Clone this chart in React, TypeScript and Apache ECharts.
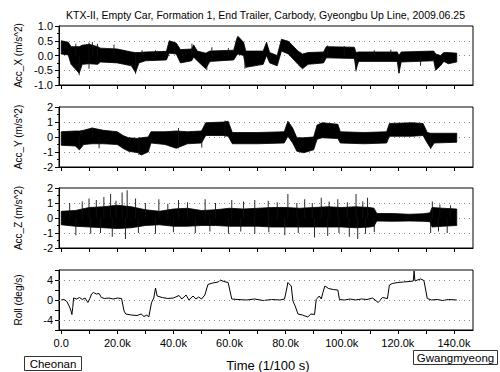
import React, { useEffect, useRef } from 'react';
import * as echarts from 'echarts';

const titleText = 'KTX-II, Empty Car, Formation 1, End Trailer, Carbody, Gyeongbu Up Line, 2009.06.25';
const xAxisTitle = 'Time (1/100 s)';
const startStation = 'Cheonan';
const endStation = 'Gwangmyeong';
const panelNames = ['Acc_X (m/s^2)', 'Acc_Y (m/s^2)', 'Acc_Z (m/s^2)', 'Roll (deg/s)'];

// time in units of 1k (x 1/100 s)
const xTickValues = [0, 10, 20, 30, 40, 50, 60, 70, 80, 90, 100, 110, 120, 130, 140];
const xLabelValues = [0, 20, 40, 60, 80, 100, 120, 140];

// Acc_X envelope (upper / lower edge of the dense trace) and isolated peaks
const accXTime = [0, 2.5, 3.5, 6.4, 7.5, 10, 13, 14, 20, 25, 26.5, 27.7, 30, 37.5, 38.5, 41, 42.5, 46.5, 47.2, 48.5, 51.5, 53, 61.5, 62.5, 63, 65, 65.8, 72, 73.2, 74.3, 77, 78.5, 81, 84.4, 86, 88, 93.5, 94.5, 104.5, 105.1, 106, 119.8, 120.4, 121.2, 132.8, 133.5, 135.2, 136.4, 138, 141];
const accXHigh = [0.5, 0.45, 0.3, 0.3, 0.35, 0.38, 0.3, 0.25, 0.22, 0.12, 0.1, 0.1, 0.12, 0.14, 0.5, 0.42, 0.2, 0.22, 0.36, 0.15, 0.08, 0.15, 0.18, 0.55, 0.65, 0.45, 0.15, 0.15, 0.45, 0.1, 0.0, 0.55, 0.48, 0.15, 0.05, 0.1, 0.12, 0.3, 0.28, 0.1, 0.12, 0.12, 0.0, 0.12, 0.15, 0.05, 0.0, 0.1, 0.1, 0.08];
const accXLow = [0.05, 0.02, -0.3, -0.6, -0.3, -0.28, -0.3, -0.22, -0.25, -0.35, -0.58, -0.25, -0.18, -0.15, 0.08, 0.05, -0.25, -0.18, -0.05, -0.18, -0.45, -0.2, -0.15, 0.0, 0.05, 0.0, -0.4, -0.3, 0.0, -0.25, -0.35, 0.15, 0.05, -0.3, -0.45, -0.3, -0.25, -0.08, -0.1, -0.48, -0.2, -0.2, -0.6, -0.22, -0.18, -0.5, -0.35, -0.2, -0.28, -0.22];
const accXPeakTime = [5.2, 9.9, 11.1, 12.9, 18.8, 28.8, 33.6, 46.6, 53.7, 59.6, 95.0, 100.9, 111.6, 117.5, 6.4, 9.9, 26.5, 51.9, 65.5, 105.1, 120.4, 128.1];
const accXPeakValue = [0.4, 0.44, 0.46, 0.4, 0.37, 0.18, 0.18, 0.4, 0.28, 0.25, 0.34, 0.32, 0.18, 0.2, -0.67, -0.45, -0.62, -0.5, -0.45, -0.54, -0.6, -0.35];

// Acc_Y envelope and isolated peaks
const accYTime = [0, 5, 6.5, 8, 11, 15, 20, 22, 24, 27.5, 28.5, 31, 32, 37, 41, 45, 50, 51.5, 58, 59.5, 61, 70, 79.5, 80.8, 82.5, 84, 86.5, 90, 91.2, 93, 98.6, 99.5, 108, 116, 117, 125, 129, 130.5, 131.7, 133, 141];
const accYHigh = [0.35, 0.4, 0.4, 0.45, 0.6, 0.45, 0.35, 0.1, -0.05, -0.1, -0.05, 0.0, 0.35, 0.35, 0.4, 0.35, 0.4, 0.95, 1.0, 1.05, 0.3, 0.3, 0.35, 1.05, 0.6, -0.05, -0.05, 0.0, 0.8, 0.95, 0.85, 0.35, 0.3, 0.35, 0.9, 0.95, 0.9, 0.3, 0.25, 0.25, 0.25];
const accYLow = [-0.55, -0.6, -0.85, -0.5, -0.45, -0.45, -0.5, -0.75, -0.95, -1.05, -1.2, -1.0, -0.4, -0.5, -0.75, -0.45, -0.4, 0.1, 0.1, 0.05, -0.45, -0.45, -0.4, 0.05, -0.4, -0.95, -1.05, -0.85, -0.15, -0.05, -0.1, -0.4, -0.45, -0.4, 0.05, 0.05, 0.1, -0.4, -0.75, -0.4, -0.35];
const accYPeakTime = [11.1, 41.8, 58.4, 6.4, 13.5, 27.7, 41.8, 50.1, 131.7];
const accYPeakValue = [0.62, 0.6, 1.1, -0.85, -0.75, -1.2, -0.75, -0.7, -0.8];

// Acc_Z envelope plus isolated peaks
const accZTime = [0, 5, 10, 15, 20, 25, 30, 35, 40, 45, 50, 55, 60, 65, 70, 75, 80, 85, 90, 95, 100, 105, 110, 111.5, 112.5, 118, 124, 129, 131.5, 132.2, 136, 141];
const accZHigh = [0.45, 0.5, 0.7, 0.75, 0.85, 0.75, 0.55, 0.45, 0.6, 0.65, 0.5, 0.55, 0.65, 0.6, 0.65, 0.7, 0.7, 0.65, 0.7, 0.75, 0.7, 0.75, 0.7, 0.65, 0.3, 0.3, 0.25, 0.28, 0.35, 0.7, 0.65, 0.6];
const accZLow = [-0.45, -0.55, -0.6, -0.65, -0.7, -0.65, -0.5, -0.45, -0.55, -0.55, -0.5, -0.5, -0.55, -0.55, -0.55, -0.6, -0.6, -0.6, -0.6, -0.6, -0.6, -0.65, -0.6, -0.55, -0.2, -0.22, -0.2, -0.22, -0.25, -0.6, -0.55, -0.5];
const accZPeakTime = [3, 7.5, 9.9, 12.5, 15.2, 17.6, 19.5, 21.7, 23.5, 26.5, 30, 34.8, 38, 41.8, 45, 51.3, 55, 60.8, 65, 69.0, 73.8, 77, 80.8, 84, 86.8, 89.5, 92.7, 95.5, 98.6, 102, 105.1, 107.5, 109.2, 132.3, 135, 138.8, 5.2, 10.5, 14, 18.2, 22.9, 27.5, 33.6, 40, 47.8, 53, 59.6, 64, 69.0, 74, 79.7, 84.5, 90.3, 95.0, 99, 102.7, 105.7, 108.5, 111.6, 131.7, 134.5, 137.6];
const accZPeakValue = [1.0, 1.1, 1.3, 1.2, 1.4, 1.6, 1.15, 1.7, 1.85, 1.3, 1.0, 1.25, 0.95, 1.2, 1.05, 1.25, 1.0, 1.2, 1.1, 1.2, 1.15, 1.05, 1.6, 1.0, 1.25, 1.0, 1.35, 1.1, 1.25, 1.05, 1.6, 1.1, 1.35, 1.1, 0.9, 0.85, -1.15, -1.05, -1.0, -1.25, -1.4, -1.0, -1.05, -0.95, -1.0, -0.9, -1.05, -0.9, -1.05, -0.95, -1.15, -1.0, -1.3, -1.2, -1.0, -1.25, -1.4, -1.05, -0.95, -1.0, -0.9, -1.0];

// Roll rate
const rollTime = [0, 1, 2, 2.8, 3.4, 3.8, 4.1, 4.4, 5.5, 6.5, 7.5, 8.5, 9.5, 10.2, 10.8, 11.5, 12.5, 13.5, 14.3, 15.5, 17, 18.5, 20, 21.5, 22.4, 23, 25, 27, 28.5, 29.5, 30.5, 31.2, 32.2, 33, 33.6, 34.2, 36, 38, 40, 42, 43, 44.5, 45.5, 47, 48, 49, 50, 51.2, 52.3, 54, 56, 56.6, 58, 59.5, 60.8, 63, 66, 69, 72, 75, 78, 79.6, 80.3, 80.8, 82, 82.6, 83.4, 84.4, 86, 87.9, 89, 90.3, 90.9, 92, 92.7, 93.3, 94, 95.3, 97, 98.6, 99.2, 101, 103, 105, 107, 109, 111, 113, 114.5, 116.3, 117, 118, 120, 122, 124, 125.5, 125.8, 126.1, 127, 128.1, 129.3, 130.5, 132, 134, 136, 138, 141];
const rollValue = [0.0, 0.1, -0.3, -1.2, -2.0, -2.9, -1.5, 0.4, 0.2, 0.5, 0.1, 0.4, -0.5, 0.3, 1.2, 1.5, 1.2, 1.3, 0.5, 0.3, 0.4, 0.2, 0.4, 0.3, -2.2, -2.8, -3.0, -3.1, -2.8, -3.3, -3.0, -3.4, -0.5, 0.4, 2.4, 0.8, 0.5, 0.3, 0.4, 0.9, 0.2, 1.0, 0.0, 0.8, 0.2, 0.6, 0.2, 1.0, 3.1, 3.4, 3.6, 4.0, 3.7, 3.5, 0.2, 0.1, 0.0, 0.2, -0.1, 0.1, 0.0, 0.2, 2.0, 3.5, 2.8, -0.2, -1.2, -2.8, -3.0, -3.4, -2.8, -2.9, 0.1, 0.8, 0.2, 1.5, 2.8, 2.3, 2.1, 2.0, 0.1, 0.0, 0.2, 0.0, 0.2, 0.1, 0.4, -0.5, 0.5, 0.3, 3.0, 3.3, 3.5, 3.6, 3.7, 3.8, 5.8, 3.8, 4.0, 4.2, 3.9, 0.3, 0.0, 0.1, -0.1, 0.1, 0.0];

const FONT = '"Liberation Sans", Arial, sans-serif';
const gridTops = [26, 107, 188, 270];
const gridHeights = [59, 60, 60, 60];
const yMins = [-1, -2, -2, -6];
const yMaxs = [1, 2, 2, 6];
const yIntervals = [0.5, 1, 1, 2];

function bandSeries(idx: number, t: number[], hi: number[], lo: number[]) {
  return {
    type: 'custom',
    xAxisIndex: idx,
    yAxisIndex: idx,
    clip: true,
    silent: true,
    data: t.map((x, i) => [x, hi[i], lo[i]]),
    encode: { x: 0, y: [1, 2] },
    renderItem: (params: any, api: any) => {
      if (params.dataIndex !== 0) return null;
      const pts: number[][] = [];
      for (let i = 0; i < t.length; i++) pts.push(api.coord([t[i], hi[i]]));
      for (let i = t.length - 1; i >= 0; i--) pts.push(api.coord([t[i], lo[i]]));
      return {
        type: 'polygon',
        shape: { points: pts },
        style: { fill: '#000', stroke: '#000', lineWidth: 0.8 },
      };
    },
  };
}

function peakSeries(idx: number, t: number[], v: number[]) {
  return {
    type: 'custom',
    xAxisIndex: idx,
    yAxisIndex: idx,
    clip: true,
    silent: true,
    data: t.map((x, i) => [x, v[i]]),
    encode: { x: 0, y: 1 },
    renderItem: (params: any, api: any) => {
      const a = api.coord([api.value(0), 0]);
      const b = api.coord([api.value(0), api.value(1)]);
      return {
        type: 'line',
        shape: { x1: a[0], y1: a[1], x2: b[0], y2: b[1] },
        style: { stroke: '#111', lineWidth: 0.9 },
      };
    },
  };
}

export default function App() {
  const ref = useRef<HTMLDivElement>(null);
  useEffect(() => {
    if (!ref.current) return;
    const chart = echarts.init(ref.current, null, { renderer: 'svg' });
    const grids = gridTops.map((top, i) => ({
      left: 59,
      width: 414,
      top,
      height: gridHeights[i],
      show: true,
      borderColor: '#000',
      borderWidth: 1,
      containLabel: false,
      outerBoundsMode: 'none',
    }));
    const xAxes = gridTops.map((_, i) => ({
      type: 'value',
      gridIndex: i,
      min: -0.8,
      max: 146.8,
      axisLine: { show: true, onZero: false, lineStyle: { color: '#000', width: 1 } },
      axisTick: { show: true, customValues: xTickValues, length: 4, lineStyle: { color: '#000' } },
      axisLabel: {
        show: i === 3,
        customValues: xLabelValues,
        formatter: (v: number) => (v === 0 ? '0.0' : v.toFixed(1) + 'k'),
        fontSize: 11,
        color: '#000',
        fontFamily: FONT,
        margin: 7,
      },
      splitLine: { show: false },
    }));
    const yAxes = gridTops.map((_, i) => ({
      type: 'value',
      gridIndex: i,
      min: yMins[i],
      max: yMaxs[i],
      interval: yIntervals[i],
      name: panelNames[i],
      nameLocation: 'middle',
      nameGap: 36,
      nameTextStyle: { fontSize: 10, color: '#000', fontFamily: FONT },
      axisLine: { show: true, onZero: false, lineStyle: { color: '#000', width: 1 } },
      axisTick: { show: true, length: 4, lineStyle: { color: '#000' } },
      minorTick: { show: i < 3, splitNumber: 2, length: 2, lineStyle: { color: '#000' } },
      axisLabel: {
        fontSize: 11,
        color: '#000',
        fontFamily: FONT,
        margin: 6,
        formatter: (v: number) => {
          if (i === 0) return v.toFixed(1);
          if (i === 3) return v === 4 || v === 0 || v === -4 ? String(v) : '';
          return String(v);
        },
      },
      splitLine: { show: i < 3, lineStyle: { type: [1, 4], color: '#888', width: 1 } },
    }));
    chart.setOption({
      animation: false,
      backgroundColor: '#fff',
      grid: grids,
      xAxis: xAxes,
      yAxis: yAxes,
      series: [
        bandSeries(0, accXTime, accXHigh, accXLow),
        peakSeries(0, accXPeakTime, accXPeakValue),
        bandSeries(1, accYTime, accYHigh, accYLow),
        peakSeries(1, accYPeakTime, accYPeakValue),
        bandSeries(2, accZTime, accZHigh, accZLow),
        peakSeries(2, accZPeakTime, accZPeakValue),
        {
          type: 'line',
          xAxisIndex: 3,
          yAxisIndex: 3,
          data: rollTime.map((x, i) => [x, rollValue[i]]),
          symbol: 'none',
          lineStyle: { color: '#000', width: 1 },
          markLine: {
            silent: true,
            symbol: ['none', 'none'],
            label: { show: false },
            lineStyle: { type: [1, 4], color: '#888', width: 1 },
            data: [{ yAxis: 4 }, { yAxis: 0 }, { yAxis: -4 }],
          },
        },
      ],
      graphic: [
        {
          type: 'text',
          x: 265.5,
          y: 15,
          style: { text: titleText, fontSize: 10.5, fontFamily: FONT, fill: '#000', textAlign: 'center', textVerticalAlign: 'middle' },
        },
        {
          type: 'text',
          x: 268,
          y: 365,
          style: { text: xAxisTitle, fontSize: 13, fontFamily: FONT, fill: '#000', textAlign: 'center', textVerticalAlign: 'middle' },
        },
        {
          type: 'rect',
          shape: { x: 24.5, y: 356.5, width: 57, height: 14 },
          style: { fill: '#fff', stroke: '#333', lineWidth: 1 },
        },
        {
          type: 'text',
          x: 53,
          y: 363.5,
          style: { text: startStation, fontSize: 11.5, fontFamily: FONT, fill: '#000', textAlign: 'center', textVerticalAlign: 'middle' },
        },
        {
          type: 'rect',
          shape: { x: 413.5, y: 350.5, width: 84, height: 14 },
          style: { fill: '#fff', stroke: '#333', lineWidth: 1 },
        },
        {
          type: 'text',
          x: 455.5,
          y: 357.5,
          style: { text: endStation, fontSize: 11.5, fontFamily: FONT, fill: '#000', textAlign: 'center', textVerticalAlign: 'middle' },
        },
      ],
    });
    return () => chart.dispose();
  }, []);
  return <div ref={ref} style={{ position: 'fixed', left: 0, top: 0, width: 500, height: 372 }} />;
}
